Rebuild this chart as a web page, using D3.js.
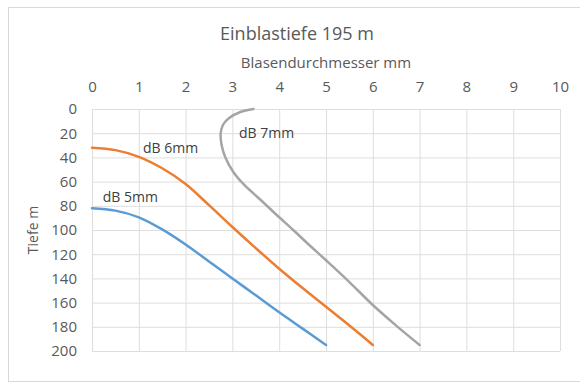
<!DOCTYPE html>
<html>
<head>
<meta charset="utf-8">
<script src="https://cdn.jsdelivr.net/npm/d3@7"></script>
<style>
  body { margin: 0; background: #fff; }
  svg text { font-family: "Open Sans", sans-serif; }
</style>
</head>
<body>
<div id="chart"></div>
<script>
// Blasendurchmesser (mm) gegen Tiefe (m)
const xTicks = [0, 1, 2, 3, 4, 5, 6, 7, 8, 9, 10];
const yTicks = [0, 20, 40, 60, 80, 100, 120, 140, 160, 180, 200];

const db5Diam  = [0, 0.5, 1, 1.5, 2, 2.5, 3, 3.5, 4, 4.5, 5];
const db5Depth = [82, 84, 89.5, 99.5, 112, 126, 140, 154, 168, 181.5, 195];

const db6Diam  = [0, 0.5, 1, 1.5, 2, 2.5, 3, 3.5, 4, 4.5, 5, 5.5, 6];
const db6Depth = [32, 34, 39.5, 49, 62, 79.5, 97.5, 115, 132, 148, 163.5, 179, 195];

const db7Diam  = [3.45, 3.17, 2.93, 2.8, 2.75, 2.77, 2.85, 3.02, 3.26, 3.6, 3.93, 4.3, 4.63, 5.0, 5.5, 6.0, 6.5, 7.0];
const db7Depth = [0, 2.5, 7.5, 13, 20, 30, 40, 52, 63, 75, 87, 100, 112, 125, 143, 162, 179, 195];

const seriesNames = ["dB 5mm", "dB 6mm", "dB 7mm"];
const seriesColors = ["#5b9bd5", "#ed7d31", "#a5a5a5"];

const width = 580, height = 383;
const plot = { left: 92, right: 560, top: 109, bottom: 351 };

const svg = d3.select('#chart').append('svg')
    .attr('width', width)
    .attr('height', height);

// chart frame
svg.append('rect')
    .attr('x', 8.5).attr('y', 7.5)
    .attr('width', 580).attr('height', 374)
    .attr('fill', '#fff')
    .attr('stroke', '#d9d9d9');

const x = d3.scaleLinear().domain([0, 10]).range([plot.left, plot.right]);
const y = d3.scaleLinear().domain([0, 200]).range([plot.top, plot.bottom]);

// grid
svg.append('g')
    .attr('transform', `translate(0,${plot.top})`)
    .call(d3.axisBottom(x).tickValues(xTicks).tickSize(plot.bottom - plot.top).tickFormat(''))
    .call(g => g.select('.domain').remove())
    .call(g => g.selectAll('line').attr('stroke', '#dedede'));

svg.append('g')
    .attr('transform', `translate(${plot.left},0)`)
    .call(d3.axisRight(y).tickValues(yTicks).tickSize(plot.right - plot.left).tickFormat(''))
    .call(g => g.select('.domain').remove())
    .call(g => g.selectAll('line').attr('stroke', '#dedede'));

// x axis labels on top
svg.append('g')
    .attr('transform', `translate(0,${plot.top})`)
    .call(d3.axisTop(x).tickValues(xTicks).tickSize(0).tickPadding(17))
    .call(g => g.select('.domain').remove())
    .call(g => g.selectAll('text').attr('fill', '#595959').attr('font-size', 15).attr('font-family', '"Open Sans", sans-serif'));

// y axis labels
svg.append('g')
    .attr('transform', `translate(${plot.left},0)`)
    .call(d3.axisLeft(y).tickValues(yTicks).tickSize(0).tickPadding(15))
    .call(g => g.select('.domain').remove())
    .call(g => g.selectAll('text').attr('fill', '#595959').attr('font-size', 15).attr('font-family', '"Open Sans", sans-serif'));

// titles
svg.append('text')
    .attr('x', 297).attr('y', 40)
    .attr('text-anchor', 'middle')
    .attr('font-size', 18)
    .attr('fill', '#595959')
    .text('Einblastiefe 195 m');

svg.append('text')
    .attr('x', (plot.left + plot.right) / 2).attr('y', 68)
    .attr('text-anchor', 'middle')
    .attr('font-size', 15)
    .attr('fill', '#595959')
    .text('Blasendurchmesser mm');

svg.append('text')
    .attr('transform', `translate(38,230) rotate(-90)`)
    .attr('text-anchor', 'middle')
    .attr('font-size', 14)
    .attr('fill', '#595959')
    .text('Tiefe m');

// curves
const series = [
    d3.zip(db5Diam, db5Depth),
    d3.zip(db6Diam, db6Depth),
    d3.zip(db7Diam, db7Depth)
];

const line = d3.line()
    .x(d => x(d[0]))
    .y(d => y(d[1]))
    .curve(d3.curveCatmullRom.alpha(0.5));

svg.append('g')
    .selectAll('path')
    .data(series)
    .enter().append('path')
    .attr('d', line)
    .attr('fill', 'none')
    .attr('stroke', (d, i) => seriesColors[i])
    .attr('stroke-width', 2.5)
    .attr('stroke-linecap', 'round');

// series labels
const labelPos = [[0.23, 77], [1.09, 36.5], [3.14, 24]];
svg.append('g')
    .selectAll('text')
    .data(seriesNames)
    .enter().append('text')
    .attr('x', (d, i) => x(labelPos[i][0]))
    .attr('y', (d, i) => y(labelPos[i][1]))
    .attr('font-size', 14)
    .attr('fill', '#404040')
    .text(d => d);
</script>
</body>
</html>
